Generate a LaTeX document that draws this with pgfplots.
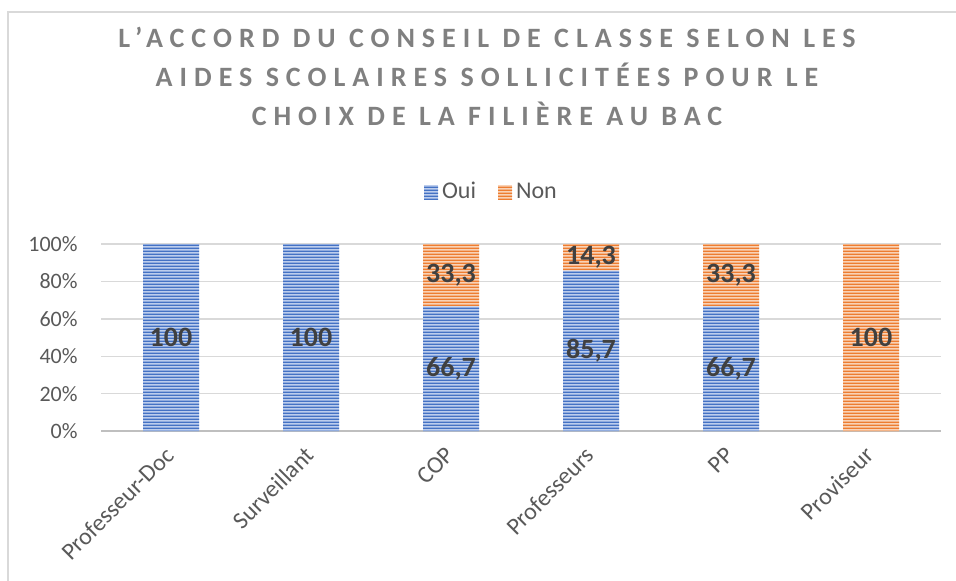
\documentclass[border=0pt]{standalone}
\usepackage{fontspec}
\setmainfont{Carlito}
\newfontfamily\titlefont[LetterSpace=25]{Carlito}
\usepackage{pgfplots}
\usepackage{pgfplotstable}
\pgfplotsset{compat=1.18}
\usetikzlibrary{patterns}
\pgfdeclarepatternformonly{hstripes}{\pgfpoint{0pt}{0pt}}{\pgfpoint{60pt}{1.4pt}}{\pgfpoint{60pt}{1.4pt}}{%
  \pgfpathrectangle{\pgfpoint{-1pt}{0pt}}{\pgfpoint{62pt}{0.75pt}}\pgfusepath{fill}}
\definecolor{oui}{HTML}{4472C4}
\definecolor{ouibg}{HTML}{BCCDED}
\definecolor{non}{HTML}{ED7D31}
\definecolor{nonbg}{HTML}{F9D2B6}
\definecolor{txt}{HTML}{595959}
\definecolor{lbl}{HTML}{404040}
\definecolor{gridc}{HTML}{D9D9D9}
\definecolor{ttl}{HTML}{808080}
\definecolor{axc}{HTML}{BFBFBF}
\pgfplotsset{sqlegend/.style={legend image code/.code={\path[##1] (0pt,-3.5pt) rectangle (7pt,3.5pt);}}}

\pgfplotstableread{
x y lab
0 100 100
1 100 100
2 66.7 66,7
3 85.7 85,7
4 66.7 66,7
5 0 {}
}\ouitab
\pgfplotstableread{
x y lab
0 0 {}
1 0 {}
2 33.3 33,3
3 14.3 14,3
4 33.3 33,3
5 100 100
}\nontab

\begin{document}
\begin{tikzpicture}
\useasboundingbox (0,0) rectangle (478pt,290pt);
\draw[gridc, line width=0.75pt] (4pt,-5pt) -- (4pt,284pt) -- (500pt,284pt);
\node[align=center, text=ttl, font=\titlefont\bfseries\fontsize{14}{19.5}\selectfont] at (243.5pt,252pt)
  {L’ACCORD DU CONSEIL DE CLASSE SELON LES\\AIDES SCOLAIRES SOLLICITÉES POUR LE\\CHOIX DE LA FILIÈRE AU BAC};
\begin{axis}[
  at={(50.5pt,74.5pt)}, anchor=south west,
  scale only axis, width=420pt, height=93.5pt,
  ybar stacked, bar width=28pt,
  xmin=-0.5, xmax=5.5, ymin=0, ymax=100,
  enlargelimits=false,
  xtick={0,...,5},
  xticklabels={Professeur-Doc, Surveillant, COP, Professeurs, PP, Proviseur},
  ytick={0,20,...,100},
  yticklabel={\pgfmathprintnumber{\tick}\%},
  /pgf/number format/assume math mode=true,
  major tick length=0pt,
  axis x line*=bottom, axis y line*=left,
  y axis line style={draw=none},
  x axis line style={draw=axc, line width=1.2pt},
  ymajorgrids, major grid style={draw=gridc, line width=0.7pt},
  ticklabel style={font=\fontsize{11}{13}\selectfont, text=txt},
  yticklabel style={anchor=east, inner sep=0pt, xshift=-11.5pt},
  xticklabel style={xshift=-0.5pt, yshift=-10pt, rotate=45, anchor=east, inner sep=0pt, font=\fontsize{12}{14}\selectfont},
  point meta=explicit symbolic,
  nodes near coords,
  every node near coord/.append style={anchor=center, font=\bfseries\fontsize{14}{16}\selectfont, text=lbl},
  legend columns=2,
  legend style={draw=none, fill=none, at={(0.466,1)}, anchor=center, yshift=26pt,
     font=\fontsize{12}{14}\selectfont, text=txt,
     /tikz/every even column/.append style={column sep=9pt}},
]
\addplot[draw=none, fill=ouibg, postaction={pattern=hstripes, pattern color=oui}, sqlegend]
  table[x=x, y=y, meta=lab] {\ouitab};
\addplot[draw=none, fill=nonbg, postaction={pattern=hstripes, pattern color=non}, sqlegend]
  table[x=x, y=y, meta=lab] {\nontab};
\legend{Oui, Non}
\end{axis}
\end{tikzpicture}
\end{document}
